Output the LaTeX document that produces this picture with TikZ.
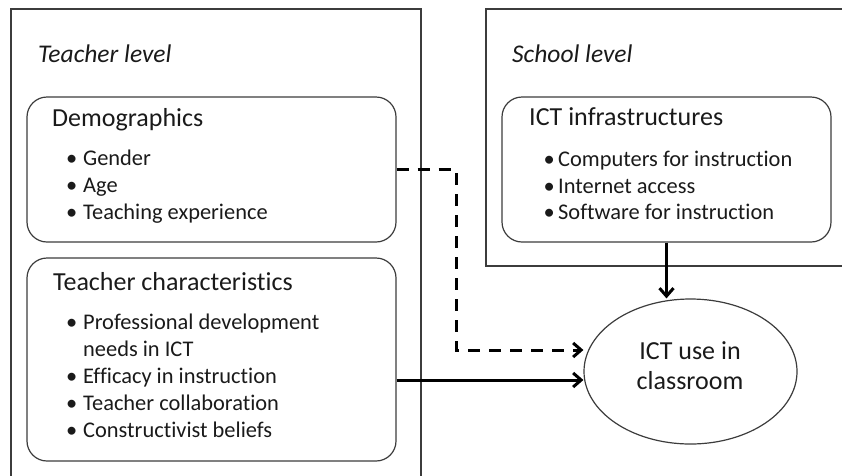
\documentclass[tikz,border=0pt]{standalone}
\usepackage{fontspec}
\setmainfont{Carlito}[Ligatures=NoCommon]
\usetikzlibrary{arrows.meta,shapes.geometric}
\definecolor{edge}{HTML}{3C3C3C}
\definecolor{ink}{HTML}{1A1A1A}
\tikzset{
  panel/.style={draw=edge,line width=1.2pt},
  roundbox/.style={draw=edge,line width=1.2pt,rounded corners=20pt,inner sep=0pt},
  level/.style={anchor=base west,inner sep=0pt,text=ink,font=\fontsize{25.5}{30}\selectfont\itshape},
  boxtitle/.style={anchor=base west,inner sep=0pt,text=ink,font=\fontsize{26}{30}\selectfont},
  item/.style={anchor=base west,inner sep=0pt,text=ink,font=\fontsize{22.4}{26}\selectfont},
  link/.style={line width=3pt,black,-{Straight Barb[length=8pt,width=14pt]}},
  dlink/.style={link,dash pattern=on 12pt off 9pt},
}
\newcommand{\bl}[1]{\llap{•\hspace{#1}}}
\begin{document}
\begin{tikzpicture}[x=1pt,y=-1pt]
\useasboundingbox (0,0) rectangle (842,475);
\clip (0,0) rectangle (842,475);
% level panels
\draw[panel] (11,480) -- (11,9) -- (421,9) -- (421,480);
\draw[panel] (850,9) -- (486,9) -- (486,266) -- (850,266);
\node[level] (tlevel) at (38,62) {Teacher level};
\node[level] (slevel) at (512,62) {School level};
% boxes
\node[roundbox,minimum width=369pt,minimum height=145pt] (demo) at (211.5,169.5) {};
\node[roundbox,minimum width=369pt,minimum height=203pt] (tchar) at (211.5,359.5) {};
\node[roundbox,minimum width=329pt,minimum height=145pt] (infra) at (666.5,169.5) {};
\node[draw=edge,line width=1.2pt,ellipse,minimum width=213pt,minimum height=145pt,inner sep=0pt] (use) at (690.5,371.5) {};
\node[anchor=base,inner sep=0pt,align=center,text=ink,font=\fontsize{26}{30}\selectfont] (uset) at (690,389) {ICT use in\\classroom};
% demographics
\node[boxtitle] (demot) at (52,126) {Demographics};
\node[item] (d1) at (83,165) {\bl{6pt}Gender};
\node[item] (d2) at (83,192) {\bl{6pt}Age};
\node[item] (d3) at (83,219) {\bl{6pt}Teaching experience};
% teacher characteristics
\node[boxtitle] (tchart) at (53,290) {Teacher characteristics};
\node[item] (t1) at (83,329) {\bl{6pt}Professional development};
\node[item] (t1b) at (83,356) {needs in ICT};
\node[item] (t2) at (83,383) {\bl{6pt}Efficacy in instruction};
\node[item] (t3) at (83,410) {\bl{6pt}Teacher collaboration};
\node[item] (t4) at (83,437) {\bl{6pt}Constructivist beliefs};
% ICT infrastructures
\node[boxtitle] (infrat) at (529,125) {ICT infrastructures};
\node[item] (i1) at (558,166) {\bl{3.5pt}Computers for instruction};
\node[item] (i2) at (558,193) {\bl{3.5pt}Internet access};
\node[item] (i3) at (558,219) {\bl{3.5pt}Software for instruction};
% connectors
\coordinate (bendA) at (456,169.5);
\coordinate (bendB) at (456,350);
\draw[dlink] (demo.east) -- (bendA) -- (bendB) -- (bendB -| use.west);
\draw[link] ([yshift=-20.5pt]tchar.east) -- ([yshift=-20.5pt]tchar.east -| use.west);
\draw[link] (infra.south) -- (infra.south |- use.north);
\end{tikzpicture}
\end{document}
